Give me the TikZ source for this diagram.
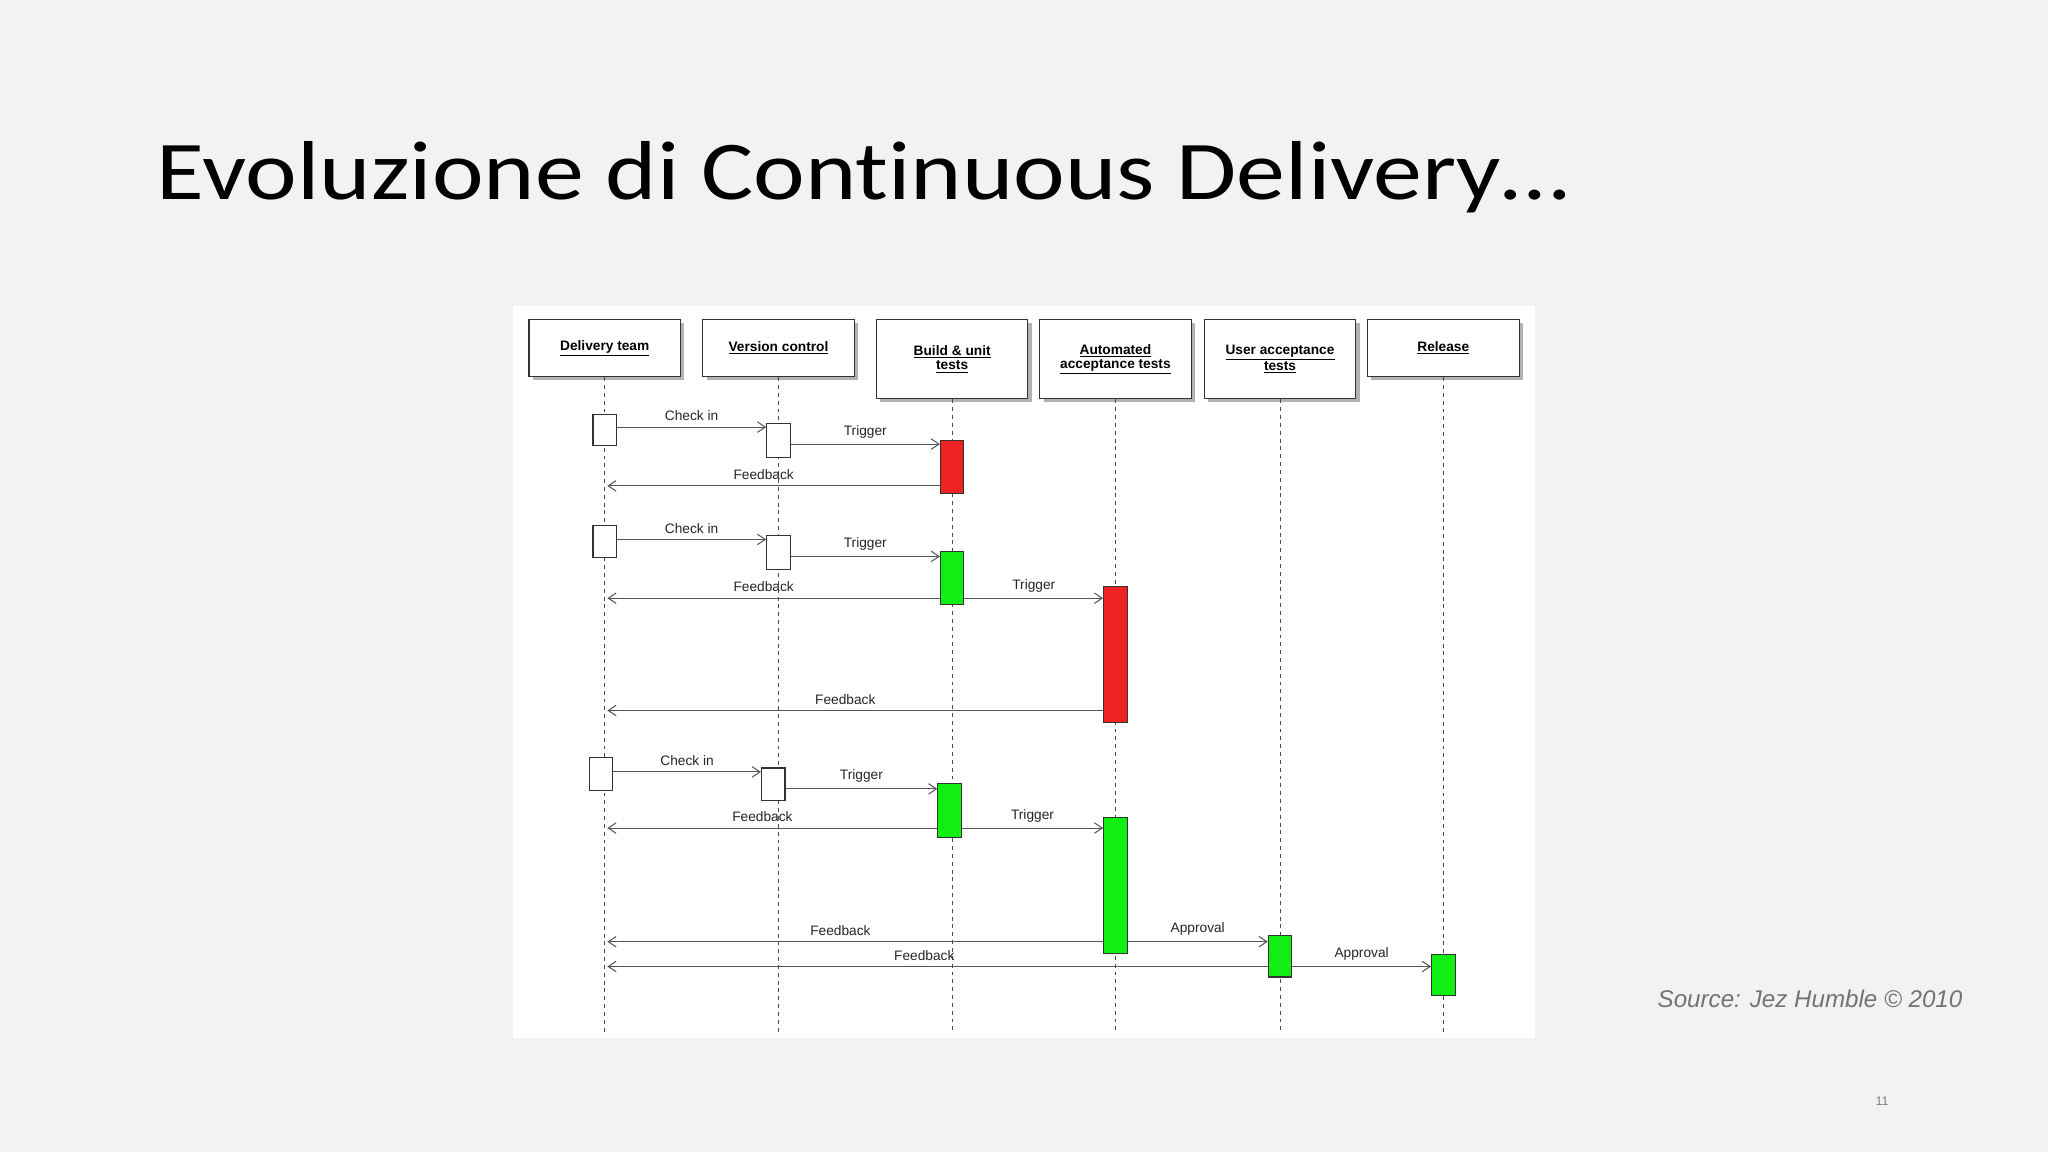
\documentclass[tikz,border=0pt]{standalone}
\usepackage{fontspec}
\setmainfont{Liberation Sans}
\newfontfamily\titlefont[RawFeature={-liga;-dlig}]{Carlito}
\usetikzlibrary{arrows.meta}
\definecolor{bg}{HTML}{F2F2F2}
\definecolor{ln}{HTML}{555555}
\definecolor{rd}{HTML}{EE2222}
\definecolor{gr}{HTML}{11EE11}
\tikzset{
 hdr/.style={draw=black!80,fill=white,line width=0.8pt,minimum width=116pt,align=center,font=\bfseries\fontsize{10.5}{11}\selectfont,inner sep=2pt},
 life/.style={dashed,draw=black!70,line width=0.7pt},
 act/.style={draw=black!80,line width=0.8pt,minimum width=18pt,inner sep=0pt},
 msg/.style={draw=ln,line width=0.8pt,-{Straight Barb[length=6pt,width=8pt]}},
 lbl/.style={font=\fontsize{10.5}{11}\selectfont,text=black!85}
}
\newcommand{\ul}[1]{\underline{#1}}
\begin{document}
\begin{tikzpicture}[x=1pt,y=-1pt]
\fill[bg] (0,0) rectangle (1568,882);
\useasboundingbox (0,0) rectangle (1568,882);
\node[anchor=base west,font=\titlefont\fontsize{64}{70}\selectfont,inner sep=0] (title) at (120,153) {\scalebox{1.17}[1]{Evoluzione di Continuous Delivery…}};
\fill[white] (393,234) rectangle (1175,795);
% headers
\foreach \n/\x/\h/\t in {h1/463/44/{\ul{Delivery team}},h2/596/44/{\ul{Version control}},h3/729/61/{\ul{Build \& unit}\\\ul{tests}},h4/854/61/{\ul{Automated}\\\ul{acceptance tests}},h5/980/61/{\ul{User acceptance}\\\ul{tests}},h6/1105/44/{\ul{Release}}}{
 \fill[black!30] (\x-55,247) rectangle (\x+61,247+\h);
 \node[hdr,minimum height=\h pt,anchor=north] (\n) at (\x,244) {\t};
}
\foreach \n/\x in {h1/463,h2/596,h3/729,h4/854,h5/980,h6/1105}
 \draw[life] (\n.south) -- (\x,790);
% activations
\node[act,fill=white,minimum height=24pt] (d1) at (463,329) {};
\node[act,fill=white,minimum height=26pt] (v1) at (596,337) {};
\node[act,fill=rd,minimum height=41pt] (b1) at (729,357.5) {};
\node[act,fill=white,minimum height=25pt] (d2) at (463,414.5) {};
\node[act,fill=white,minimum height=26pt] (v2) at (596,423) {};
\node[act,fill=gr,minimum height=41pt] (b2) at (729,442.5) {};
\node[act,fill=rd,minimum height=104pt] (a2) at (854,501) {};
\node[act,fill=white,minimum height=25pt] (d3) at (460,592.5) {};
\node[act,fill=white,minimum height=25pt] (v3) at (592,600.5) {};
\node[act,fill=gr,minimum height=41pt] (b3) at (727,620.5) {};
\node[act,fill=gr,minimum height=104pt] (a3) at (854,678) {};
\node[act,fill=gr,minimum height=32pt] (u3) at (980,732) {};
\node[act,fill=gr,minimum height=31pt] (r3) at (1105,746.5) {};
\coordinate (L) at (465,0);
% messages
\draw[msg] (d1.east|-0,327) -- node[lbl,above=1pt]{Check in} (v1.west|-0,327);
\draw[msg] (v1.east|-0,340) -- node[lbl,above=1pt]{Trigger} (b1.west|-0,340);
\draw[msg] (b1.west|-0,372) -- node[lbl,above=1pt,pos=0.53]{Feedback} (L|-0,372);
\draw[msg] (d2.east|-0,413) -- node[lbl,above=1pt]{Check in} (v2.west|-0,413);
\draw[msg] (v2.east|-0,426) -- node[lbl,above=1pt]{Trigger} (b2.west|-0,426);
\draw[msg] (b2.west|-0,458) -- node[lbl,above=1pt,pos=0.53]{Feedback} (L|-0,458);
\draw[msg] (b2.east|-0,458) -- node[lbl,above=1pt,pos=0.5]{Trigger} (a2.west|-0,458);
\draw[msg] (a2.west|-0,544) -- node[lbl,above=1pt,pos=0.52]{Feedback} (L|-0,544);
\draw[msg] (d3.east|-0,591) -- node[lbl,above=1pt]{Check in} (v3.west|-0,591);
\draw[msg] (v3.east|-0,604) -- node[lbl,above=1pt]{Trigger} (b3.west|-0,604);
\draw[msg] (b3.west|-0,634) -- node[lbl,above=1pt,pos=0.53]{Feedback} (L|-0,634);
\draw[msg] (b3.east|-0,634) -- node[lbl,above=1pt]{Trigger} (a3.west|-0,634);
\draw[msg] (a3.west|-0,721) -- node[lbl,above=1pt,pos=0.53]{Feedback} (L|-0,721);
\draw[msg] (a3.east|-0,721) -- node[lbl,above=1pt]{Approval} (u3.west|-0,721);
\draw[msg] (u3.west|-0,740) -- node[lbl,above=1pt,pos=0.52]{Feedback} (L|-0,740);
\draw[msg] (u3.east|-0,740) -- node[lbl,above=1pt]{Approval} (r3.west|-0,740);
\node[anchor=east,font=\itshape\fontsize{18.5}{20}\selectfont,text=black!55] (src) at (1506,765) {Source: Jez Humble © 2010};
\node[font=\fontsize{9.5}{10}\selectfont,text=black!50] (pg) at (1441,843) {11};
\end{tikzpicture}
\end{document}
